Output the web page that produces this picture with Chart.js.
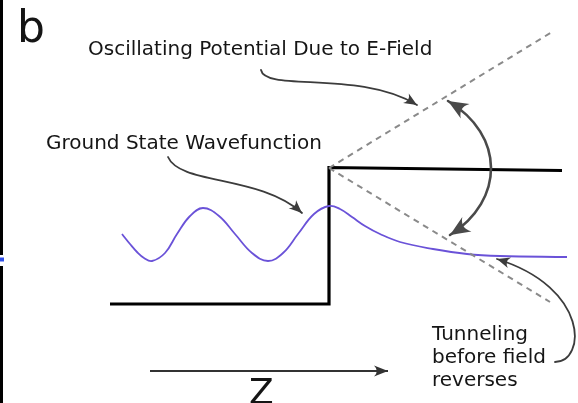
<!DOCTYPE html>
<html>
<head>
<meta charset="utf-8">
<script src="https://cdn.jsdelivr.net/npm/chart.js@4/dist/chart.umd.min.js"></script>
<style>
  html, body { margin: 0; padding: 0; background: #fff; }
  #wrap { width: 578px; height: 403px; position: relative; }
</style>
</head>
<body>
<div id="wrap"><canvas id="c" width="578" height="403"></canvas></div>
<script>
// Diagram coordinates: z runs left to right, "depth" runs top to bottom.
const Z_RANGE = [0, 578];
const D_RANGE = [0, 403];

// Potential step (well floor, wall, barrier top)
const stepZ = [110, 329, 329, 562];
const stepD = [304, 304, 167.5, 170.5];

// Tilted potential due to the oscillating field (two extremes)
const fieldUpZ = [329, 552];
const fieldUpD = [168, 32];
const fieldDownZ = [329, 550];
const fieldDownD = [168, 302];

// Ground state wavefunction: oscillating in the well, decaying under the barrier
const waveZ = [122, 130, 137, 144, 152, 165, 177, 190, 203, 219, 235, 252, 268,
               283, 298, 314, 329, 340, 352, 365, 380, 400, 433, 467, 500, 567];
const waveD = [234, 244, 252, 258, 261, 253, 234, 216, 208, 216, 234, 253, 261,
               253, 234, 214, 206, 209, 217, 226, 234, 242, 249, 254, 256, 257];

// Edge of neighbouring panel
const edgeTopZ = [1.5, 1.5];
const edgeTopD = [0, 255];
const edgeBotZ = [1.5, 1.5];
const edgeBotD = [266, 403];
const edgeMarkZ = [0, 4];
const edgeMarkD = [259.5, 259.5];

// z-direction arrow
const zAxisZ = [150, 388];
const zAxisD = [371, 371];

// Annotation arrows as cubic curves: [start, ctrl1, ctrl2, end]
const arrowField = [[261, 70], [265, 92], [360, 70], [417, 105]];
const arrowWave = [[168, 157], [180, 185], [260, 175], [302, 213]];
const arrowSwing = [[448, 101], [505, 135], [505, 200], [450, 235]];
const arrowTunnel = [[555, 362], [586, 362], [590, 288], [497, 259]];

// Labels
const labels = [
  { text: 'b', z: 17, d: 42, size: 44 },
  { text: 'Oscillating Potential Due to E-Field', z: 88, d: 55, size: 20 },
  { text: 'Ground State Wavefunction', z: 46, d: 149, size: 20 },
  { text: 'Tunneling', z: 432, d: 340, size: 20 },
  { text: 'before field', z: 432, d: 363, size: 20 },
  { text: 'reverses', z: 432, d: 386, size: 20 },
  { text: 'Z', z: 249, d: 404, size: 36 }
];

const pts = (zs, ds) => zs.map((z, i) => ({ x: z, y: ds[i] }));

function line(zs, ds, color, width, extra) {
  return Object.assign({
    data: pts(zs, ds),
    borderColor: color,
    borderWidth: width,
    showLine: true,
    pointRadius: 0,
    fill: false,
    tension: 0
  }, extra || {});
}

function arrowHead(ctx, tip, from, len, half, color) {
  const ang = Math.atan2(tip[1] - from[1], tip[0] - from[0]);
  ctx.save();
  ctx.translate(tip[0], tip[1]);
  ctx.rotate(ang);
  ctx.fillStyle = color;
  ctx.beginPath();
  ctx.moveTo(0, 0);
  ctx.lineTo(-len, -half);
  ctx.quadraticCurveTo(-len * 0.6, 0, -len, half);
  ctx.closePath();
  ctx.fill();
  ctx.restore();
}

const annotations = {
  id: 'annotations',
  afterDatasetsDraw(chart) {
    const ctx = chart.ctx;
    const sx = chart.scales.x, sy = chart.scales.y;
    const P = p => [sx.getPixelForValue(p[0]), sy.getPixelForValue(p[1])];

    function curve(c, color, width, headStart, headEnd, len, half) {
      const p = c.map(P);
      ctx.save();
      ctx.strokeStyle = color;
      ctx.lineWidth = width;
      ctx.lineCap = 'round';
      ctx.beginPath();
      ctx.moveTo(p[0][0], p[0][1]);
      ctx.bezierCurveTo(p[1][0], p[1][1], p[2][0], p[2][1], p[3][0], p[3][1]);
      ctx.stroke();
      ctx.restore();
      if (headEnd) arrowHead(ctx, p[3], p[2], len, half, color);
      if (headStart) arrowHead(ctx, p[0], p[1], len, half, color);
    }

    curve(arrowField, '#3c3c3c', 1.8, false, true, 13, 5.5);
    curve(arrowWave, '#3c3c3c', 1.8, false, true, 13, 5.5);
    curve(arrowSwing, '#4a4a4a', 2.6, true, true, 20, 8.5);
    curve(arrowTunnel, '#3c3c3c', 1.8, false, true, 13, 5.5);

    // z-direction arrow head
    const a = P([zAxisZ[1], zAxisD[1]]);
    const b = P([zAxisZ[0], zAxisD[0]]);
    arrowHead(ctx, a, b, 14, 5.5, '#333');

    ctx.save();
    ctx.fillStyle = '#151515';
    ctx.textBaseline = 'alphabetic';
    labels.forEach(l => {
      const q = P([l.z, l.d]);
      ctx.font = l.size + 'px "DejaVu Sans"';
      ctx.fillText(l.text, q[0], q[1]);
    });
    ctx.restore();
  }
};

new Chart(document.getElementById('c'), {
  type: 'scatter',
  data: {
    datasets: [
      line(edgeTopZ, edgeTopD, '#000', 3),
      line(edgeBotZ, edgeBotD, '#000', 3),
      line(edgeMarkZ, edgeMarkD, '#2f4fe8', 4),
      line(fieldUpZ, fieldUpD, '#8a8a8a', 2, { borderDash: [6, 5] }),
      line(fieldDownZ, fieldDownD, '#8a8a8a', 2, { borderDash: [6, 5] }),
      line(waveZ, waveD, '#6a52d8', 1.8, { tension: 0.4 }),
      line(stepZ, stepD, '#000', 3.2, { borderJoinStyle: 'miter' }),
      line(zAxisZ, zAxisD, '#333', 1.8)
    ]
  },
  options: {
    responsive: false,
    animation: false,
    devicePixelRatio: 1,
    layout: { padding: 0 },
    plugins: { legend: { display: false }, tooltip: { enabled: false } },
    scales: {
      x: { type: 'linear', min: Z_RANGE[0], max: Z_RANGE[1], display: false },
      y: { type: 'linear', min: D_RANGE[0], max: D_RANGE[1], reverse: true, display: false }
    }
  },
  plugins: [annotations]
});
</script>
</body>
</html>
